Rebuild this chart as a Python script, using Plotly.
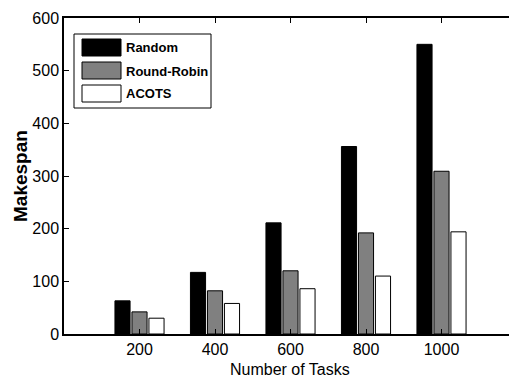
import plotly.graph_objects as go

# ---- data ----
tasks = ["200", "400", "600", "800", "1000"]
random_ms = [63, 117, 211, 356, 550]
round_robin_ms = [42, 82, 120, 192, 309]
acots_ms = [30, 58, 86, 110, 194]

series_names = ["Random", "Round-Robin", "ACOTS"]
series_colors = ["#000000", "#808080", "#ffffff"]
series_values = [random_ms, round_robin_ms, acots_ms]

W, H = 509, 381
L, T, B, R = 64, 18, 47, 0
plot_w = W - L - R
plot_h = H - T - B

xpos = list(range(1, len(tasks) + 1))

fig = go.Figure()
for name, col, vals in zip(series_names, series_colors, series_values):
    fig.add_trace(go.Bar(
        x=xpos, y=vals, name=name,
        marker=dict(color=col, line=dict(color="black", width=1)),
        showlegend=False,
    ))

def px(x):
    return (x - L) / plot_w

def py(y):
    return (H - B - y) / plot_h

shapes = []
annotations = []
# legend box
shapes.append(dict(type="rect", xref="paper", yref="paper",
                   x0=px(74), x1=px(211), y0=py(108), y1=py(34),
                   line=dict(color="black", width=1), fillcolor="white"))
sw_top = [39, 62, 85]
for (name, col), ty in zip(zip(series_names, series_colors), sw_top):
    shapes.append(dict(type="rect", xref="paper", yref="paper",
                       x0=px(82), x1=px(121), y0=py(ty + 17), y1=py(ty),
                       line=dict(color="black", width=1), fillcolor=col))
    annotations.append(dict(xref="paper", yref="paper", x=px(124), y=py(ty + 9),
                            xanchor="left", yanchor="middle", showarrow=False,
                            text="<b>%s</b>" % name,
                            font=dict(family="Liberation Sans, Arial",
                                      size=13, color="black")))

annotations.append(dict(xref="paper", yref="paper", x=px(290), y=py(369),
                        xanchor="center", yanchor="middle", showarrow=False,
                        text="Number of Tasks",
                        font=dict(family="Liberation Sans, Arial", size=16, color="black")))
annotations.append(dict(xref="paper", yref="paper", x=px(20), y=py(176),
                        xanchor="center", yanchor="middle", showarrow=False,
                        text="<b>Makespan</b>", textangle=-90,
                        font=dict(family="Liberation Sans, Arial", size=19, color="black")))

fig.update_layout(
    width=W, height=H,
    margin=dict(l=L, r=R, t=T, b=B, pad=0),
    paper_bgcolor="white", plot_bgcolor="white",
    barmode="group", bargap=0.325, bargroupgap=0.11,
    font=dict(family="Liberation Sans, Arial", size=16, color="black"),
    shapes=shapes, annotations=annotations,
    xaxis=dict(range=[0, plot_w / 75.5], tickvals=xpos, ticktext=tasks,
               showline=True, linecolor="black", linewidth=1.5, mirror="ticks",
               ticks="inside", ticklen=5, tickcolor="black", showgrid=False,
               zeroline=False, tickfont=dict(size=16)),
    yaxis=dict(range=[0, 600], dtick=100, showline=True, linecolor="black",
               linewidth=1.5, ticks="inside", ticklen=5, tickcolor="black",
               showgrid=False, zeroline=False, tickfont=dict(size=16)),
)

fig.write_html("out.html", config={"displayModeBar": False},
               post_script="document.body.style.margin='0';document.body.style.overflow='hidden';")
